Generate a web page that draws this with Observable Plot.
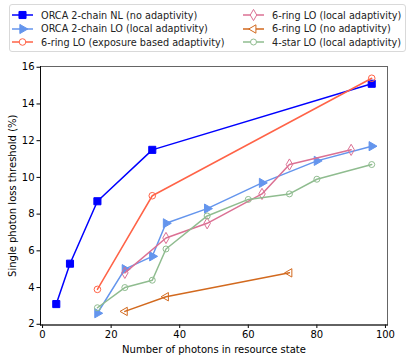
<!DOCTYPE html>
<html>
<head>
<meta charset="utf-8">
<script src="https://cdn.jsdelivr.net/npm/d3@7"></script>
<script src="https://cdn.jsdelivr.net/npm/@observablehq/plot@0.6"></script>
<style>
  html, body { margin: 0; padding: 0; background: #fff; }
  body { width: 413px; height: 361px; overflow: hidden; font-family: "DejaVu Sans", sans-serif; }
  #legend { position: relative; height: 56px; }
  #legend .box { position: absolute; left: 9px; top: 4px; width: 397px; height: 48px; border: 1px solid #d9d9d9; border-radius: 3px; box-sizing: border-box; }
  #legend .item { position: absolute; display: flex; align-items: center; font-size: 9.7px; color: #222; white-space: nowrap; }
  #legend svg { display: block; margin-right: 8px; }
</style>
</head>
<body>
<div id="legend"><div class="box"></div></div>
<div id="chart"></div>
<script>
// ---- data ----
const seriesNames = [
  "ORCA 2-chain NL (no adaptivity)",
  "ORCA 2-chain LO (local adaptivity)",
  "6-ring LO (exposure based adaptivity)",
  "6-ring LO (local adaptivity)",
  "6-ring LO (no adaptivity)",
  "4-star LO (local adaptivity)"
];
const orcaNL_x = [4, 8, 16, 32, 96];
const orcaNL_y = [3.1, 5.3, 8.7, 11.5, 15.1];
const orcaLO_x = [16, 24, 32, 36, 48, 64, 80, 96];
const orcaLO_y = [2.6, 5.0, 5.7, 7.5, 8.3, 9.7, 10.9, 11.7];
const ringExp_x = [16, 32, 96];
const ringExp_y = [3.9, 9.0, 15.4];
const ringLocal_x = [24, 36, 48, 64, 72, 90];
const ringLocal_y = [4.8, 6.7, 7.5, 9.1, 10.7, 11.5];
const ringNo_x = [24, 36, 72];
const ringNo_y = [2.7, 3.5, 4.8];
const star_x = [16, 24, 32, 36, 48, 60, 72, 80, 96];
const star_y = [2.9, 4.0, 4.4, 6.1, 7.9, 8.8, 9.1, 9.9, 10.7];
const xTicks = [0, 20, 40, 60, 80, 100];
const yTicks = [2, 4, 6, 8, 10, 12, 14, 16];

// ---- styles ----
const styles = [
  {color: "#0000ff", symbol: "square", rotate: 0, fill: true, r: 4.0},
  {color: "#6495ed", symbol: "triangle", rotate: 90, fill: true, r: 3.4},
  {color: "#ff6347", symbol: "circle", rotate: 0, fill: false, r: 3.3},
  {color: "#db7093", symbol: "diamond", rotate: 0, fill: false, r: 3.4},
  {color: "#d2691e", symbol: "triangle", rotate: -90, fill: false, r: 3.1},
  {color: "#8fbc8f", symbol: "circle", rotate: 0, fill: false, r: 3.0}
];
const xs = [orcaNL_x, orcaLO_x, ringExp_x, ringLocal_x, ringNo_x, star_x];
const ys = [orcaNL_y, orcaLO_y, ringExp_y, ringLocal_y, ringNo_y, star_y];
const series = seriesNames.map((name, i) => xs[i].map((x, j) => ({name, x, y: ys[i][j]})));

const marks = [];
series.forEach((data, i) => {
  const s = styles[i];
  marks.push(Plot.line(data, {x: "x", y: "y", stroke: s.color, strokeWidth: 1.5}));
  marks.push(Plot.dot(data, {x: "x", y: "y", symbol: () => s.symbol, r: s.r, rotate: s.rotate,
    stroke: s.color, fill: s.fill ? s.color : "none", strokeWidth: 1}));
});

const chart = Plot.plot({
  width: 413,
  height: 305,
  marginTop: 10,
  marginBottom: 36.5,
  marginLeft: 40,
  marginRight: 26,
  style: {fontFamily: "DejaVu Sans, sans-serif", fontSize: "10px", color: "#000", background: "#fff"},
  x: {domain: [-0.6, 100.6], ticks: xTicks, tickSize: 3.5, tickPadding: 2.5,
      label: "Number of photons in resource state", labelAnchor: "center", labelArrow: "none", labelOffset: 27.5},
  y: {domain: [1.96, 16.04], ticks: yTicks, tickSize: 3.5, tickPadding: 2.5,
      label: "Single photon loss threshold (%)", labelAnchor: "center", labelArrow: "none", labelOffset: 32},
  marks: [
    ...marks,
    Plot.frame({stroke: "#555", strokeWidth: 0.9}),
    Plot.frame({anchor: "left", stroke: "#000", strokeWidth: 0.9}),
    Plot.frame({anchor: "bottom", stroke: "#000", strokeWidth: 0.9})
  ]
});
document.getElementById("chart").appendChild(chart);

// ---- legend ----
const legend = document.getElementById("legend");
const colLeft = [12, 243];
const rowTop = [15, 28.7, 42.4];
seriesNames.forEach((name, i) => {
  const s = styles[i];
  const col = i < 3 ? 0 : 1;
  const row = i % 3;
  const item = document.createElement("div");
  item.className = "item";
  item.style.left = colLeft[col] + "px";
  item.style.top = (rowTop[row] - 7) + "px";
  item.style.height = "14px";
  const symType = {square: d3.symbolSquare, triangle: d3.symbolTriangle, circle: d3.symbolCircle, diamond: d3.symbolDiamond}[s.symbol];
  const path = d3.symbol(symType, Math.PI * s.r * s.r)();
  item.innerHTML = `<svg width="21" height="14"><line x1="0" x2="21" y1="7" y2="7" stroke="${s.color}" stroke-width="1.5"/>` +
    `<path d="${path}" transform="translate(10.5,7) rotate(${s.rotate})" stroke="${s.color}" fill="${s.fill ? s.color : "#fff"}" stroke-width="1"/></svg>` +
    `<span>${name}</span>`;
  legend.appendChild(item);
});
</script>
</body>
</html>
